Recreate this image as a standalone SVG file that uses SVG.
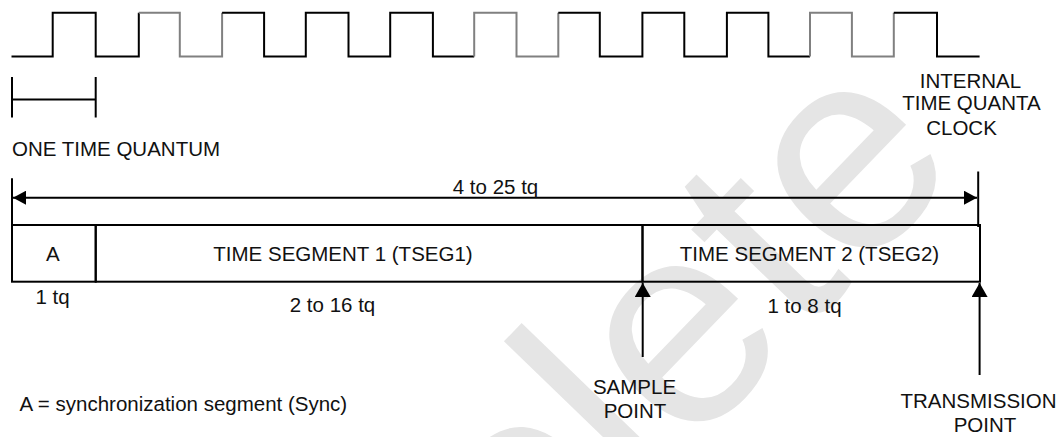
<svg xmlns="http://www.w3.org/2000/svg" width="1064" height="437" viewBox="0 0 1064 437">
<defs>
<style>
text{font-family:"Liberation Sans",Arial,Helvetica,sans-serif;font-size:20.5px;fill:#111}
.m{text-anchor:middle}
.ln{fill:none;stroke:#000;stroke-width:2}
.gr{fill:none;stroke:#808080;stroke-width:2}
.wm{font-size:290px;fill:#e5e5e5}
</style>
<marker id="ah" markerUnits="userSpaceOnUse" markerWidth="13" markerHeight="14" refX="13" refY="7" orient="auto-start-reverse">
<path d="M0,0 L13,7 L0,14 z" fill="#000"/>
</marker>
<marker id="au" markerUnits="userSpaceOnUse" markerWidth="14" markerHeight="16" refX="14" refY="8" orient="auto">
<path d="M0,0 L14,8 L0,16 z" fill="#000"/>
</marker>
</defs>
<rect width="1064" height="437" fill="#fff"/>
<text class="wm" transform="translate(160,1000) rotate(-46)">Obsolete</text>

<g id="clock">
<path class="ln" d="M11.5,56.5 H52.7 V12.7 H95.7 V56.5 H138.8 V12.7"/>
<path class="gr" d="M138.8,12.7 H179.8 V56.5 H222.1 V12.7"/>
<path class="ln" d="M222.1,12.7 H264.1 V56.5 H305.8 V12.7 H348.5 V56.5 H390.2 V12.7 H432.9 V56.5 H474.2"/>
<path class="gr" d="M474.2,56.5 V12.7 H516.5 V56.5 H558.3 V12.7"/>
<path class="ln" d="M558.3,12.7 H599.8 V56.5 H642.4 V12.7 H684.3 V56.5 H726.9 V12.7 H768.4 V56.5 H810"/>
<path class="gr" d="M810,56.5 V12.7 H851.9 V56.5 H893.8 V12.7"/>
<path class="ln" d="M893.8,12.7 H937 V56.5 H979.6"/>
<text class="m" x="970.5" y="88">INTERNAL</text>
<text class="m" x="971.5" y="109.5">TIME QUANTA</text>
<text class="m" x="961.5" y="135">CLOCK</text>
</g>

<g id="tq-marker">
<path class="ln" d="M12,77 V117.5 M95.7,77 V117.5 M12,99.5 H95.7"/>
<text x="12" y="156">ONE TIME QUANTUM</text>
</g>

<g id="seg-sync">
<rect class="ln" x="12" y="225" width="83.7" height="56.7"/>
<text class="m" x="52.8" y="261">A</text>
<text class="m" x="52.5" y="303.5">1 tq</text>
</g>
<g id="seg-tseg1">
<rect class="ln" x="95.7" y="225" width="546.8" height="56.7"/>
<text class="m" x="343" y="261">TIME SEGMENT 1 (TSEG1)</text>
<text class="m" x="332.5" y="311.5">2 to 16 tq</text>
</g>
<g id="seg-tseg2">
<rect class="ln" x="642.5" y="225" width="337.5" height="56.7"/>
<text class="m" x="809.5" y="261">TIME SEGMENT 2 (TSEG2)</text>
<text class="m" x="804.5" y="312.5">1 to 8 tq</text>
</g>

<g id="connectors">
<path class="ln" d="M12,178.3 V225"/>
<path class="ln" d="M978.2,171.5 V227"/>
<path class="ln" d="M13,197.7 H977" marker-start="url(#ah)" marker-end="url(#ah)"/>
<path class="ln" d="M642.7,357 V283" marker-end="url(#au)"/>
<path class="ln" d="M979.6,375 V283" marker-end="url(#au)"/>
</g>

<g id="labels">
<text class="m" x="495.5" y="194">4 to 25 tq</text>
<text x="19.6" y="411">A = synchronization segment (Sync)</text>
<text class="m" x="634.5" y="394">SAMPLE</text>
<text class="m" x="635" y="418.3">POINT</text>
<text class="m" x="978.5" y="408">TRANSMISSION</text>
<text class="m" x="985" y="431.5">POINT</text>
</g>
</svg>
